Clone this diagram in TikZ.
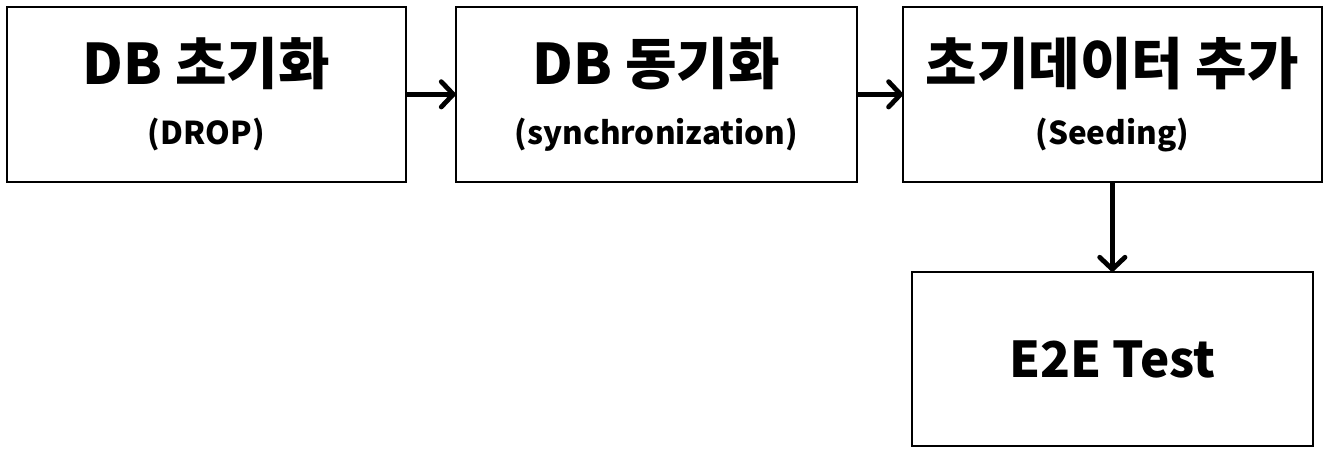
\documentclass[tikz,border=0pt]{standalone}
\usepackage{fontspec}
\setmainfont{Noto Sans CJK KR}
\usepackage{tikz}
\usetikzlibrary{arrows.meta,positioning}

\newcommand{\maintxt}[1]{{\fontsize{42}{48}\selectfont\bfseries #1}}
\newcommand{\subtxt}[1]{{\fontsize{23.6}{28}\selectfont\bfseries #1}}

\begin{document}
\begin{tikzpicture}[
    stage/.style={rectangle, draw=black, line width=1.5pt, align=center, minimum height=131pt, minimum width=301pt, inner sep=0pt, outer sep=0pt},
    arrow/.style={-{Straight Barb[length=9pt, width=19pt, round]}, line width=3.6pt}
]
    \useasboundingbox (0,0) rectangle (998.25pt,-342pt);
    \node [stage, minimum width=299pt, anchor=north west] (drop) at (5.25pt,-5.25pt)
        {\maintxt{DB 초기화}\\[20pt]\subtxt{(DROP)}};
    \node [stage, right=37.5pt of drop] (sync)
        {\maintxt{DB 동기화}\\[20pt]\subtxt{(synchronization)}};
    \node [stage, minimum width=314pt, right=34.5pt of sync] (seed)
        {\maintxt{초기데이터 추가}\\[20pt]\subtxt{(Seeding)}};
    \node [stage, below=67.5pt of seed] (test) {{\fontsize{37}{44}\selectfont\bfseries E2E Test}};

    \draw [arrow] (drop) -- (sync);
    \draw [arrow] (sync) -- (seed);
    \draw [arrow] (seed) -- (test);
\end{tikzpicture}
\end{document}
